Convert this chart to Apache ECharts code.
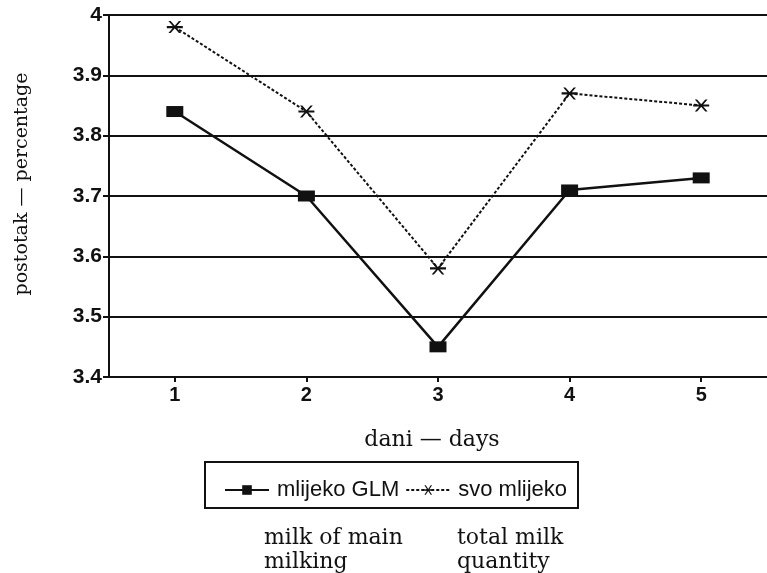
<!DOCTYPE html>
<html><head><meta charset="utf-8">
<script src="https://cdn.jsdelivr.net/npm/echarts@6/dist/echarts.min.js"></script>
<style>html,body{margin:0;padding:0;background:#fff}#c{width:767px;height:573px}</style>
</head><body><div id="c"></div>
<script>
var days = ['1','2','3','4','5'];
var glm = [3.84, 3.70, 3.45, 3.71, 3.73];
var svo = [3.98, 3.84, 3.58, 3.87, 3.85];
var seriesNames = ['mlijeko GLM', 'svo mlijeko'];
var yTitle = 'postotak \u2014 percentage';
var xTitle = 'dani \u2014 days';
var note1 = 'milk of main\nmilking';
var note2 = 'total milk\nquantity';

var ink = '#111';
var asterisk = 'path://M0,4.1H14V5.9H0Z M1.4,0L3.4,0L12.6,10L10.6,10Z M10.6,0L12.6,0L3.4,10L1.4,10Z';
var serif = '"DejaVu Serif", serif';
var sans = '"Liberation Sans", Arial, sans-serif';

var chart = echarts.init(document.getElementById('c'));
chart.setOption({
  animation: false,
  backgroundColor: '#fff',
  grid: {left: 109, top: 15, width: 663, height: 362},
  xAxis: {
    type: 'category', data: days, boundaryGap: true,
    axisLine: {lineStyle: {color: ink, width: 2}},
    axisTick: {show: true, alignWithLabel: true, length: 5, lineStyle: {color: ink, width: 2}},
    axisLabel: {color: ink, fontFamily: sans, fontWeight: 'bold', fontSize: 20, margin: 8},
    name: xTitle, nameLocation: 'middle', nameGap: 52,
    nameTextStyle: {color: ink, fontFamily: serif, fontSize: 22, padding: [0, 12, 0, 0]}
  },
  yAxis: {
    type: 'value', min: 3.4, max: 4.0, interval: 0.1,
    axisLine: {show: true, lineStyle: {color: ink, width: 2}},
    axisTick: {show: true, length: 6, lineStyle: {color: ink, width: 2}},
    axisLabel: {color: ink, fontFamily: sans, fontWeight: 'bold', fontSize: 21, margin: 7,
      formatter: function(v){ return (Math.round(v*10)/10).toString(); }},
    splitLine: {show: true, lineStyle: {color: ink, width: 2}},
    name: yTitle, nameLocation: 'middle', nameGap: 77, nameRotate: 90,
    nameTextStyle: {color: ink, fontFamily: serif, fontSize: 19, padding: [0, 0, 0, 24]}
  },
  legend: {
    left: 219, top: 474, itemWidth: 44, itemHeight: 12, itemGap: 6,
    textStyle: {color: ink, fontFamily: sans, fontSize: 22, padding: [0, 0, 0, 3]},
    data: seriesNames
  },
  series: [
    {name: seriesNames[0], type: 'line', data: glm, symbol: 'rect', symbolSize: [17, 11],
     lineStyle: {color: ink, width: 2.5}, itemStyle: {color: ink}},
    {name: seriesNames[1], type: 'line', data: svo, symbol: asterisk, symbolSize: [16, 12],
     lineStyle: {color: ink, width: 2, type: [3, 2]}, itemStyle: {color: ink}}
  ],
  graphic: [
    {type: 'rect', shape: {x: 205, y: 462, width: 373, height: 46},
     style: {fill: 'none', stroke: ink, lineWidth: 2}},
    {type: 'text', left: 264, top: 526, style: {text: note1, fill: ink, font: '22px ' + serif, lineHeight: 24}},
    {type: 'text', left: 457, top: 526, style: {text: note2, fill: ink, font: '22px ' + serif, lineHeight: 24}}
  ]
});
</script></body></html>
